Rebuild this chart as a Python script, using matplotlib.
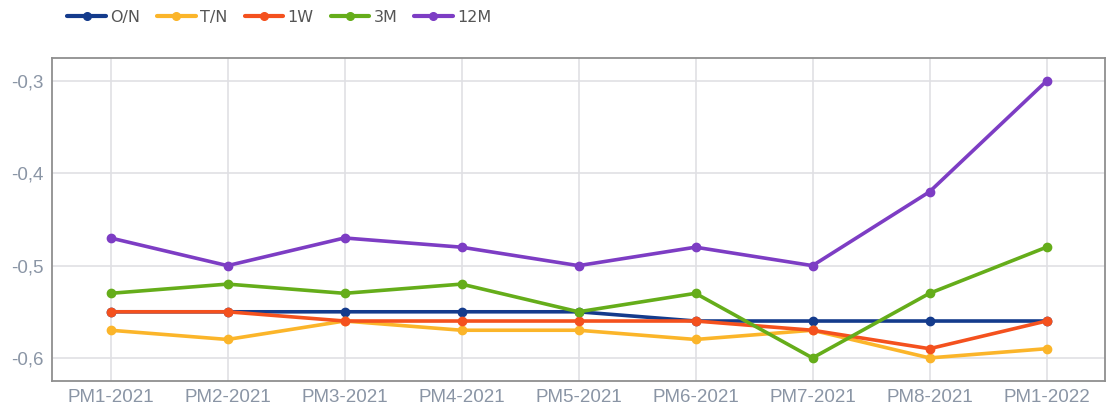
import matplotlib
matplotlib.use("Agg")
import matplotlib.pyplot as plt
from matplotlib.ticker import FuncFormatter, FixedLocator

categories = ["PM1-2021", "PM2-2021", "PM3-2021", "PM4-2021", "PM5-2021",
              "PM6-2021", "PM7-2021", "PM8-2021", "PM1-2022"]
series_names = ["O/N", "T/N", "1W", "3M", "12M"]
on_vals  = [-0.55, -0.55, -0.55, -0.55, -0.55, -0.56, -0.56, -0.56, -0.56]
tn_vals  = [-0.57, -0.58, -0.56, -0.57, -0.57, -0.58, -0.57, -0.60, -0.59]
w1_vals  = [-0.55, -0.55, -0.56, -0.56, -0.56, -0.56, -0.57, -0.59, -0.56]
m3_vals  = [-0.53, -0.52, -0.53, -0.52, -0.55, -0.53, -0.60, -0.53, -0.48]
m12_vals = [-0.47, -0.50, -0.47, -0.48, -0.50, -0.48, -0.50, -0.42, -0.30]
y_ticks = [-0.6, -0.5, -0.4, -0.3]

colors = ["#143b8c", "#fbb52a", "#f4511e", "#65ad1a", "#7d3dc4"]
all_vals = [on_vals, tn_vals, w1_vals, m3_vals, m12_vals]

fig = plt.figure(figsize=(11.09, 4.05), dpi=100)
ax = fig.add_axes([52/1109, 1 - 381/405, (1105-52)/1109, (381-58)/405])

x = list(range(len(categories)))
for name, vals, c in zip(series_names, all_vals, colors):
    ax.plot(x, vals, color=c, lw=2.6, marker="o", markersize=6,
            label=name, solid_capstyle="round", zorder=3)

ax.set_xlim(-0.5, len(categories) - 0.5)
ax.set_ylim(-0.625, -0.275)
ax.set_xticks(x)
ax.set_xticklabels(categories)
ax.yaxis.set_major_locator(FixedLocator(y_ticks))
ax.yaxis.set_major_formatter(FuncFormatter(lambda v, p: ("%.1f" % v).replace(".", ",")))
ax.grid(True, color="#e0e0e4", lw=1.2, zorder=0)
ax.set_axisbelow(True)
for s in ax.spines.values():
    s.set_color("#8f8f8f")
    s.set_linewidth(1.3)
ax.tick_params(axis="both", length=0, labelsize=13.5, labelcolor="#8a95a5",
               pad=6)
for lab in ax.get_xticklabels() + ax.get_yticklabels():
    lab.set_fontfamily("Liberation Sans")

leg = fig.legend(loc="upper left", bbox_to_anchor=(53/1109, 1.012), ncol=5,
                 frameon=False, handlelength=2.4, handletextpad=0.3,
                 columnspacing=1.05, prop={"family": "DejaVu Sans", "size": 11.5})
for t in leg.get_texts():
    t.set_color("#555555")
for h in leg.legend_handles:
    h.set_linewidth(3)
    h.set_markersize(5.5)

fig.savefig("out.png", dpi=100)
